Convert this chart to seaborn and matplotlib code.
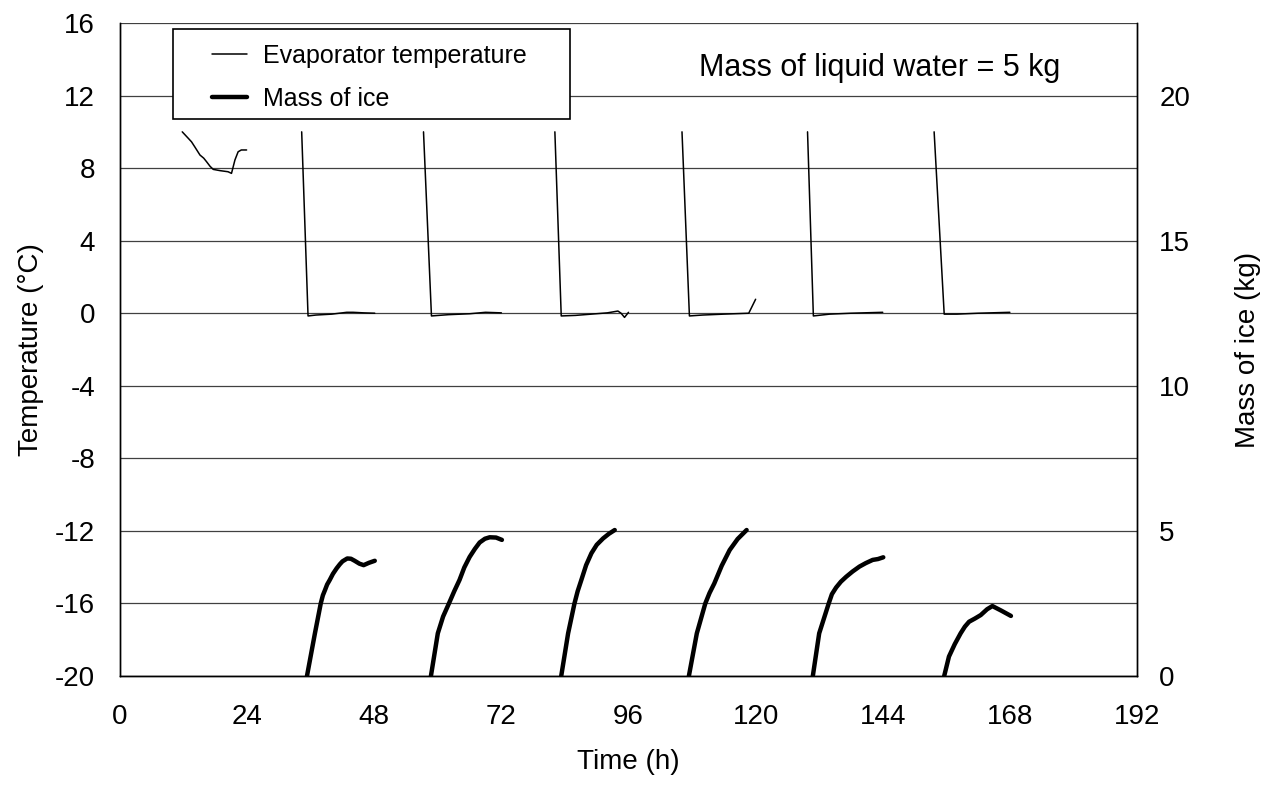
import numpy as np
import pandas as pd
import matplotlib
matplotlib.use("Agg")
import matplotlib.pyplot as plt
from matplotlib.lines import Line2D
from matplotlib.patches import Rectangle
import seaborn as sns

# ---------------- data ----------------
# Evaporator temperature (°C) per cycle: time (h), value
temp_t1 = [11.75, 12.9, 13.5, 14.1, 15.1, 15.8, 16.35, 17.0, 17.6, 18.9, 20.4, 21.05, 21.7, 22.3, 22.9, 23.9]
temp_v1 = [10.0, 9.64, 9.45, 9.18, 8.72, 8.55, 8.35, 8.1, 7.93, 7.86, 7.80, 7.71, 8.45, 8.9, 9.0, 9.0]
temp_t2 = [34.3, 35.5, 37.0, 40.0, 42.8, 44.0, 46.0, 48.1]
temp_v2 = [10.0, -0.15, -0.1, -0.05, 0.05, 0.05, 0.02, 0.0]
temp_t3 = [57.3, 58.8, 62.0, 66.0, 69.0, 72.0]
temp_v3 = [10.0, -0.15, -0.08, -0.03, 0.05, 0.02]
temp_t4 = [82.1, 83.3, 86.0, 89.0, 92.0, 94.0, 94.6, 95.25, 96.0]
temp_v4 = [10.0, -0.15, -0.12, -0.05, 0.02, 0.12, 0.0, -0.23, 0.05]
temp_t5 = [106.1, 107.5, 110.0, 114.0, 118.7, 120.0]
temp_v5 = [10.0, -0.15, -0.1, -0.05, 0.0, 0.77]
temp_t6 = [129.8, 130.9, 134.0, 138.0, 144.0]
temp_v6 = [10.0, -0.15, -0.05, 0.0, 0.05]
temp_t7 = [153.7, 155.6, 158.0, 162.0, 168.0]
temp_v7 = [10.0, -0.05, -0.05, 0.0, 0.05]

# Mass of ice (kg) per cycle
ice_t1 = [35.3, 36.8, 37.9, 38.3, 38.7, 39.1, 39.6, 40.2, 40.9, 41.5, 42.0, 42.9, 43.6, 44.3, 45.2, 46.0, 47.0, 48.1]
ice_v1 = [0.0, 1.47, 2.5, 2.78, 2.96, 3.15, 3.31, 3.52, 3.71, 3.85, 3.95, 4.05, 4.04, 3.97, 3.87, 3.82, 3.9, 3.97]
ice_t2 = [58.7, 60.0, 61.0, 62.1, 63.1, 64.1, 65.0, 66.0, 67.0, 67.9, 68.9, 69.8, 71.0, 72.1]
ice_v2 = [0.0, 1.47, 2.05, 2.5, 2.92, 3.31, 3.74, 4.1, 4.38, 4.6, 4.73, 4.78, 4.77, 4.69]
ice_t3 = [83.3, 84.6, 85.8, 86.4, 87.1, 88.0, 89.0, 90.0, 91.2, 92.3, 93.4]
ice_v3 = [0.0, 1.47, 2.5, 2.92, 3.31, 3.82, 4.23, 4.52, 4.74, 4.9, 5.03]
ice_t4 = [107.4, 108.9, 110.5, 111.3, 112.2, 113.6, 115.1, 116.6, 118.3]
ice_v4 = [0.0, 1.47, 2.5, 2.86, 3.19, 3.8, 4.34, 4.72, 5.03]
ice_t5 = [130.8, 132.0, 133.8, 134.4, 135.2, 136.1, 137.1, 138.3, 139.6, 140.8, 142.1, 143.1, 144.1]
ice_v5 = [0.0, 1.47, 2.5, 2.82, 3.05, 3.25, 3.42, 3.6, 3.77, 3.89, 4.0, 4.03, 4.09]
ice_t6 = [155.6, 156.5, 157.6, 158.7, 159.5, 160.3, 161.4, 162.5, 163.7, 164.7, 166.4, 168.2]
ice_v6 = [0.0, 0.67, 1.1, 1.47, 1.7, 1.87, 1.98, 2.1, 2.3, 2.41, 2.25, 2.07]

x_ticks = [0, 24, 48, 72, 96, 120, 144, 168, 192]
temp_ticks = [-20, -16, -12, -8, -4, 0, 4, 8, 12, 16]
ice_ticks = [0, 5, 10, 15, 20]

legend_labels = ["Evaporator temperature", "Mass of ice"]
annotation = "Mass of liquid water = 5 kg"
x_label = "Time (h)"
y_label = "Temperature (°C)"
y2_label = "Mass of ice (kg)"

# ---------------- tables ----------------
temp_segments = [(temp_t1, temp_v1), (temp_t2, temp_v2), (temp_t3, temp_v3), (temp_t4, temp_v4),
                 (temp_t5, temp_v5), (temp_t6, temp_v6), (temp_t7, temp_v7)]
ice_segments = [(ice_t1, ice_v1), (ice_t2, ice_v2), (ice_t3, ice_v3),
                (ice_t4, ice_v4), (ice_t5, ice_v5), (ice_t6, ice_v6)]

temp_df = pd.concat([pd.DataFrame({"t": t, "v": v, "cycle": i}) for i, (t, v) in enumerate(temp_segments)],
                    ignore_index=True)
ice_df = pd.concat([pd.DataFrame({"t": t, "v": v, "cycle": i}) for i, (t, v) in enumerate(ice_segments)],
                   ignore_index=True)

# ---------------- plot ----------------
sns.set_theme(style="white")
plt.rcParams["font.family"] = ["Liberation Sans", "DejaVu Sans"]
plt.rcParams["axes.unicode_minus"] = False
plt.rcParams["text.color"] = "black"
plt.rcParams["axes.labelcolor"] = "black"
plt.rcParams["xtick.color"] = "black"
plt.rcParams["ytick.color"] = "black"

fig = plt.figure(figsize=(12.78, 7.88), dpi=100)
ax = fig.add_axes([120 / 1278, 1 - 676 / 788, (1137 - 120) / 1278, (676 - 23) / 788])
ax2 = ax.twinx()

sns.lineplot(data=temp_df, x="t", y="v", units="cycle", estimator=None, sort=False,
             color="black", linewidth=1.1, ax=ax)
sns.lineplot(data=ice_df, x="t", y="v", units="cycle", estimator=None, sort=False,
             color="black", linewidth=3.2, ax=ax2)
for ln in ax2.lines:
    ln.set_solid_capstyle("round")
    ln.set_solid_joinstyle("round")

ax.set_xlim(0, 192)
ax.set_ylim(-20, 16)
ax2.set_ylim(0, 22.5)
ax.set_xticks(x_ticks)
ax.set_yticks(temp_ticks)
ax2.set_yticks(ice_ticks)

ax.yaxis.grid(True, color="#404040", linewidth=0.9)
ax.xaxis.grid(False)
ax2.grid(False)

for a in (ax, ax2):
    for s in a.spines.values():
        s.set_color("black")
        s.set_linewidth(1.0)
    a.spines["top"].set_visible(False)

ax.tick_params(axis="x", direction="in", length=8, width=1, color="#555555",
               labelsize=20, pad=20, labelcolor="black")
ax.tick_params(axis="y", length=0, labelsize=20, pad=18, labelcolor="black")
ax2.tick_params(axis="y", length=0, labelsize=20, pad=16, labelcolor="black")

ax.set_xlabel(x_label, fontsize=20, labelpad=14, color="black")
ax.set_ylabel(y_label, fontsize=20, labelpad=8, color="black")
ax2.set_ylabel(y2_label, fontsize=20, labelpad=32, color="black")

# legend box and legend
box = Rectangle(((172.6 - 120) / 1017, (676 - 119) / 653), (570 - 172.6) / 1017, (119 - 29) / 653,
                transform=ax2.transAxes, facecolor="white", edgecolor="black", linewidth=1.2,
                zorder=5)
ax2.add_patch(box)
handles = [Line2D([], [], color="black", linewidth=1.1), Line2D([], [], color="black", linewidth=3.2)]
leg = ax2.legend(handles, legend_labels, loc="upper left",
                 bbox_to_anchor=((211.7 - 120) / 1017, (676 - 44) / 653),
                 frameon=False, fontsize=18, handlelength=1.4, handletextpad=0.65,
                 borderpad=0, borderaxespad=0, labelspacing=0.75)
leg.set_zorder(6)
for txt in leg.get_texts():
    txt.set_color("black")

ax2.text((880 - 120) / 1017, (676 - 68) / 653, annotation, transform=ax2.transAxes,
         ha="center", va="center", fontsize=22, color="black")

fig.savefig("out.png", dpi=100, facecolor="white")
